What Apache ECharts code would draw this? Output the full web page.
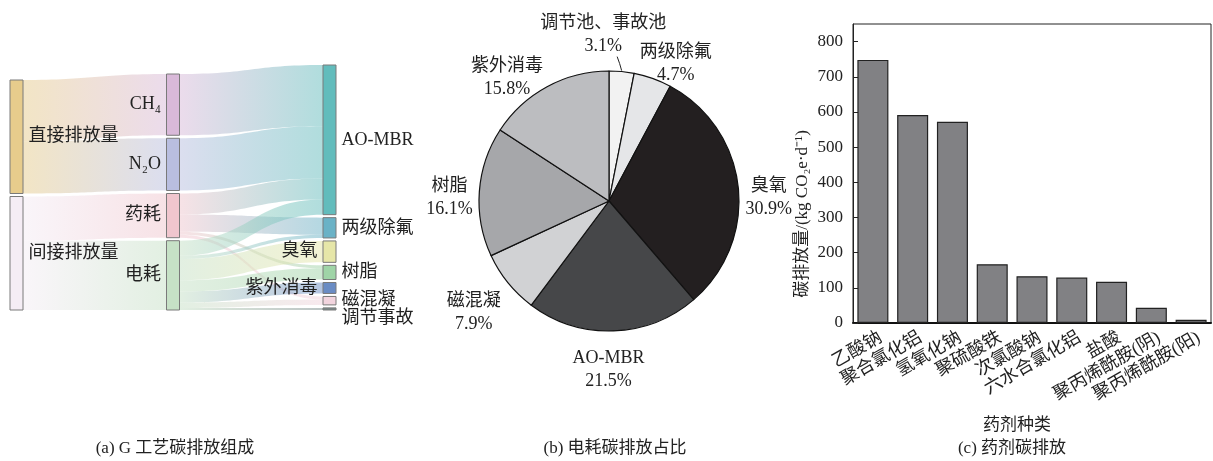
<!DOCTYPE html>
<html><head><meta charset="utf-8">
<script src="https://cdn.jsdelivr.net/npm/echarts@6/dist/echarts.min.js"></script>
<style>html,body{margin:0;padding:0;background:#fff}#c{width:1213px;height:461px}</style>
</head><body><div id="c"></div>
<script>
const FONT = '"Liberation Serif","Times New Roman","Noto Sans CJK SC",serif';

// (a) Sankey
const sankeyNodeNames = ['直接排放量','间接排放量','CH₄','N₂O','药耗','电耗','AO-MBR','两级除氟','臭氧','树脂','紫外消毒','磁混凝','调节事故'];
const sankeyNodeColors = ['#e7cc8c','#f5edf5','#d9b9d9','#b9bee0','#f0c6ce','#c6e1c6','#62bcbc','#6ab2c6','#e6e6a8','#9fd4a7','#6a8cc4','#f2d4de','#7a8a8a'];
const sankeyLabelPos = ['right','right','left','left','left','left','right','right','left','right','left','right','right'];
const sankeyLinks = [
  ['直接排放量','CH₄',61],
  ['直接排放量','N₂O',52],
  ['间接排放量','药耗',44],
  ['间接排放量','电耗',69],
  ['CH₄','AO-MBR',61],
  ['N₂O','AO-MBR',52],
  ['药耗','AO-MBR',21],
  ['药耗','两级除氟',17],
  ['药耗','树脂',3],
  ['药耗','磁混凝',3],
  ['电耗','AO-MBR',15],
  ['电耗','两级除氟',3.2],
  ['电耗','臭氧',21.3],
  ['电耗','树脂',11.1],
  ['电耗','紫外消毒',10.9],
  ['电耗','磁混凝',5.4],
  ['电耗','调节事故',2.1]
];

// (b) Pie
const pieNames = ['调节池、事故池','两级除氟','臭氧','AO-MBR','磁混凝','树脂','紫外消毒'];
const pieValues = [3.1,4.7,30.9,21.5,7.9,16.1,15.8];
const pieColors = ['#f2f2f2','#e5e6e8','#231f20','#464749','#d1d2d4','#a6a7aa','#bcbdc0'];

// (c) Bar
const drugNames = ['乙酸钠','聚合氯化铝','氢氧化钠','聚硫酸铁','次氯酸钠','六水合氯化铝','盐酸','聚丙烯酰胺(阴)','聚丙烯酰胺(阳)'];
const drugValues = [748,591,572,167,133,129,117,43,9];

const chart = echarts.init(document.getElementById('c'));

const sankeyData = sankeyNodeNames.map((n,i)=>({
  name:n,
  itemStyle:{color:sankeyNodeColors[i], borderColor:'#7a7a7a', borderWidth:1},
  label:{position:sankeyLabelPos[i], offset: n==='调节事故'?[0,9]:[0,0]}
}));

// small label nudges for pie labels (text placement only)
const pieLabelNudge = [[-23,10],[10,22],[0,14],[-6,10],[-3,4],[0,8],[-20,28]];

const option = {
  animation:false,
  textStyle:{fontFamily:FONT},
  graphic:[
    {type:'text', x:175, y:449, style:{text:'(a) G 工艺碳排放组成', font:'17px '+FONT, fill:'#222', align:'center', verticalAlign:'middle'}},
    {type:'text', x:615, y:449, style:{text:'(b) 电耗碳排放占比', font:'17px '+FONT, fill:'#222', align:'center', verticalAlign:'middle'}},
    {type:'text', x:1012, y:449, style:{text:'(c) 药剂碳排放', font:'17px '+FONT, fill:'#222', align:'center', verticalAlign:'middle'}},
    {type:'text', x:1017, y:426, style:{text:'药剂种类', font:'17px '+FONT, fill:'#222', align:'center', verticalAlign:'middle'}},
    {type:'text', x:803, y:214, rotation:Math.PI/2, style:{text:'碳排放量/(kg CO₂e·d⁻¹)', font:'17px '+FONT, fill:'#222', align:'center', verticalAlign:'middle'}}
  ],
  grid:{left:853, top:24, width:358, height:299, show:true, borderColor:'#222', borderWidth:1, backgroundColor:'transparent'},
  xAxis:{type:'category', data:drugNames,
    axisLine:{lineStyle:{color:'#111', width:2}}, axisTick:{show:false},
    axisLabel:{rotate:30, interval:0, fontSize:18, color:'#222', margin:18, padding:[0,-9,0,0], fontFamily:FONT}},
  yAxis:{type:'value', min:0, max:850, interval:100,
    axisLine:{show:true, lineStyle:{color:'#222', width:1}},
    axisTick:{show:true, inside:true, length:5, lineStyle:{color:'#222'}},
    splitLine:{show:false},
    axisLabel:{showMaxLabel:false, fontSize:17, color:'#222', margin:10, fontFamily:FONT}},
  series:[
    {
      type:'sankey', left:10, top:65, width:326, height:245,
      nodeWidth:13, nodeGap:3, draggable:false, layoutIterations:32,
      emphasis:{disabled:true},
      data:sankeyData,
      links:sankeyLinks.map(l=>({source:l[0], target:l[1], value:l[2]})),
      lineStyle:{color:'gradient', opacity:0.5, curveness:0.5},
      label:{fontSize:18, color:'#222', distance:5, fontFamily:FONT}
    },
    {
      type:'pie', center:[609,201], radius:130, startAngle:90, clockwise:true,
      avoidLabelOverlap:false,
      emphasis:{disabled:true},
      data:pieNames.map((n,i)=>({name:n, value:pieValues[i], itemStyle:{color:pieColors[i]},
        labelLine: i===0 ? {lineStyle:{opacity:1, color:'#222', width:1}} : undefined})),
      itemStyle:{borderColor:'#111', borderWidth:1.2},
      label:{show:true, position:'outside', formatter:'{b}\n{c}%', fontSize:18, lineHeight:23, color:'#222', fontFamily:FONT},
      labelLine:{show:true, length:6, length2:0, lineStyle:{opacity:0}},
      labelLayout:function(p){
        const pts = p.labelLinePoints;
        if(!pts) return {};
        const x0=pts[0][0], y0=pts[0][1];
        let dx=pts[1][0]-x0, dy=pts[1][1]-y0;
        const L=Math.hypot(dx,dy)||1; dx/=L; dy/=L;
        const w=p.labelRect.width, h=p.labelRect.height;
        const nd = pieLabelNudge[p.dataIndex] || [0,0];
        const gap = p.dataIndex===0 ? 18 : 5;
        const d = gap + Math.abs(dx)*w/2 + Math.abs(dy)*h/2;
        const res = {x:x0+dx*d+nd[0], y:y0+dy*d+nd[1], align:'center', verticalAlign:'middle'};
        if(p.dataIndex===0){
          res.labelLinePoints=[[x0,y0-1],[x0-2,y0-8],[x0-4.5,y0-15]];
        }
        return res;
      }
    },
    {
      type:'bar', data:drugValues, barCategoryGap:'22%',
      itemStyle:{color:'#818184', borderColor:'#222', borderWidth:1.2},
      emphasis:{disabled:true}
    }
  ]
};
chart.setOption(option);
</script>
</body></html>
